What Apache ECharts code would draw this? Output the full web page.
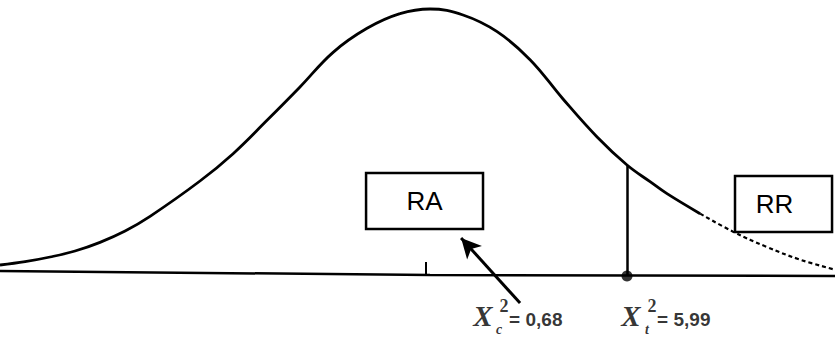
<!DOCTYPE html>
<html>
<head>
<meta charset="utf-8">
<style>
  html, body { margin: 0; padding: 0; background: #fff; }
  #chart { width: 835px; height: 338px; }
</style>
</head>
<body>
<div id="chart"></div>
<script src="https://cdn.jsdelivr.net/npm/echarts@6/dist/echarts.min.js"></script>
<script>
// bell curve: [position in sd, height]
var curveSolid = [
  [-2.688, 0.015], [-2.531, 0.020], [-2.375, 0.027], [-2.219, 0.036], [-2.063, 0.049],
  [-1.906, 0.066], [-1.75, 0.088], [-1.438, 0.141],
  [-1.231, 0.182], [-1.019, 0.232], [-0.813, 0.282], [-0.606, 0.334], [-0.394, 0.370],
  [-0.188, 0.392], [0, 0.399], [0.206, 0.390], [0.419, 0.365], [0.625, 0.323],
  [0.831, 0.264], [1.044, 0.207], [1.231, 0.165], [1.375, 0.140], [1.481, 0.122],
  [1.688, 0.092]
];
// right tail, drawn dotted in the scan
var curveTail = [[1.688, 0.092], [1.894, 0.065], [2.106, 0.042], [2.313, 0.023], [2.531, 0.008]];
var baseLine = [[-2.688, 0.006], [0, 0], [2.531, -0.0015]];

var centerTick = -0.025;
var criticalX = 1.231;        // X_t
var criticalY = 0.165;
var regionNames = ['RA', 'RR'];
var chiNames = ['c', 't'];
var chiValues = ['0,68', '5,99'];

(function() {
  var ink = '#000';
  var chart = echarts.init(document.getElementById('chart'), null, { renderer: 'svg' });

  var serif = '"Liberation Serif", "Times New Roman", serif';
  var sans = '"Liberation Sans", Arial, sans-serif';

  // anchors of the two chi-square labels (x of the big X)
  var labelX = [0.331, 1.256];
  var textItems = [];
  labelX.forEach(function(x, i) {
    textItems.push({ value: [x, -0.0615], label: { formatter: 'X', color: ink, fontFamily: serif, fontStyle: 'italic', fontWeight: 'bold', fontSize: 29 } });
    textItems.push({ value: [x + 0.131, -0.0465], label: { formatter: '2', color: ink, fontFamily: serif, fontWeight: 'bold', fontSize: 18 } });
    textItems.push({ value: [x + 0.1, -0.082], label: { formatter: chiNames[i], color: ink, fontFamily: serif, fontStyle: 'italic', fontWeight: 'bold', fontSize: 14 } });
    textItems.push({ value: [x + 0.163, -0.0665], label: { formatter: '= ' + chiValues[i], color: ink, position: 'right', distance: 0, fontFamily: sans, fontWeight: 'bold', fontSize: 19 } });
  });

  chart.setOption({
    animation: false,
    grid: { left: 0, right: 0, top: 0, bottom: 0 },
    xAxis: { type: 'value', min: -2.688, max: 2.531, show: false },
    yAxis: { type: 'value', min: -0.0945, max: 0.4125, show: false },
    series: [
      {
        type: 'line',
        data: curveSolid,
        smooth: 0.4,
        symbol: 'none',
        lineStyle: { color: ink, width: 2.8 },
        markArea: {
          silent: true,
          itemStyle: { color: '#fff', borderColor: ink, borderWidth: 2.5 },
          label: { position: 'inside', color: ink, fontFamily: sans, fontSize: 26 },
          data: [
            [{ name: regionNames[0], coord: [-0.4, 0.153] }, { coord: [0.331, 0.069] }],
            [{ name: regionNames[1], coord: [1.906, 0.1485], label: { offset: [-9, 0] } }, { coord: [2.5125, 0.0645] }]
          ]
        }
      },
      {
        type: 'line',
        data: curveTail,
        smooth: 0.4,
        symbol: 'none',
        lineStyle: { color: ink, width: 2.2, type: [4, 3] }
      },
      {
        type: 'line',
        data: baseLine,
        symbol: 'none',
        lineStyle: { color: ink, width: 2.5 },
        markLine: {
          silent: true,
          symbol: 'none',
          label: { show: false },
          data: [
            [{ coord: [centerTick, 0], lineStyle: { color: ink, width: 2, type: 'solid' } },
             { coord: [centerTick, 0.0195] }],
            [{ coord: [criticalX, -0.0015], lineStyle: { color: ink, width: 2.5, type: 'solid' } },
             { coord: [criticalX, criticalY] }],
            [{ coord: [0.5625, -0.042], symbol: 'none', lineStyle: { color: ink, width: 3, type: 'solid' } },
             { coord: [0.194, 0.0555], symbol: 'arrow', symbolSize: [15, 20] }]
          ]
        }
      },
      {
        type: 'scatter',
        data: [[criticalX, -0.0015]],
        symbolSize: 11,
        itemStyle: { color: ink }
      },
      {
        type: 'scatter',
        data: textItems,
        symbolSize: 0,
        silent: true,
        itemStyle: { color: 'transparent' },
        label: { show: true, position: 'inside', color: ink }
      }
    ]
  });
  window.addEventListener('resize', function() { chart.resize(); });
})();
</script>
</body>
</html>
